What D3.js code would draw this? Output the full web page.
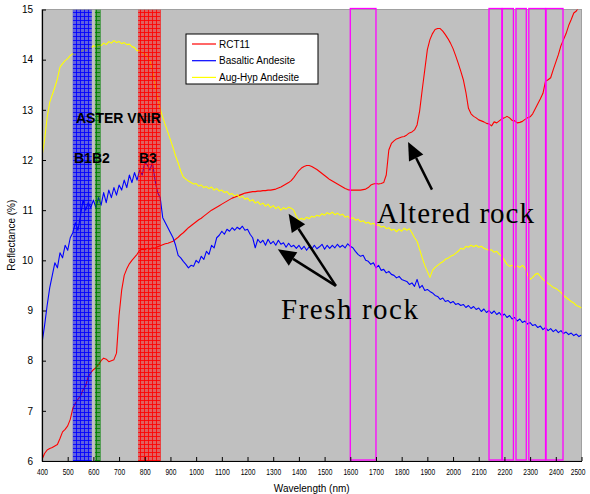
<!DOCTYPE html>
<html>
<head>
<meta charset="utf-8">
<script src="https://cdn.jsdelivr.net/npm/d3@7"></script>
<style>
  html, body { margin: 0; padding: 0; background: #fff; }
  svg { display: block; font-family: "Liberation Sans", Arial, sans-serif; }
</style>
</head>
<body>
<svg id="chart" width="590" height="494"></svg>
<script>
// Spectral sampling grid (nm), one reading every 10 nm
const wavelengths = d3.range(400, 2501, 10);

// Reflectance (%) of the altered sample
const rct11 = [
  6.03, 6.15, 6.22, 6.25, 6.27, 6.30, 6.33, 6.45, 6.58, 6.63,
  6.70, 6.83, 7.05, 7.15, 7.23, 7.30, 7.42, 7.50, 7.68, 7.76,
  7.82, 7.86, 7.92, 8.00, 8.05, 8.03, 7.98, 8.00, 8.02, 8.15,
  8.90, 9.40, 9.70, 9.83, 9.93, 10.00, 10.06, 10.12, 10.20, 10.22,
  10.21, 10.24, 10.22, 10.25, 10.24, 10.27, 10.29, 10.31, 10.33, 10.34,
  10.36, 10.38, 10.42, 10.46, 10.51, 10.55, 10.60, 10.65, 10.69, 10.73,
  10.77, 10.81, 10.84, 10.88, 10.92, 10.96, 11.00, 11.03, 11.06, 11.09,
  11.12, 11.15, 11.18, 11.21, 11.24, 11.26, 11.28, 11.30, 11.32, 11.34,
  11.35, 11.36, 11.37, 11.37, 11.38, 11.38, 11.39, 11.39, 11.40, 11.40,
  11.41, 11.42, 11.44, 11.46, 11.49, 11.52, 11.55, 11.59, 11.65, 11.72,
  11.79, 11.84, 11.87, 11.89, 11.89, 11.87, 11.84, 11.81, 11.77, 11.73,
  11.69, 11.65, 11.61, 11.58, 11.55, 11.52, 11.49, 11.46, 11.43, 11.41,
  11.40, 11.40, 11.40, 11.40, 11.40, 11.41, 11.42, 11.45, 11.50, 11.52,
  11.53, 11.52, 11.53, 11.55, 11.70, 12.20, 12.33, 12.38, 12.42, 12.44,
  12.46, 12.47, 12.50, 12.54, 12.56, 12.60, 12.70, 12.98, 13.40, 13.80,
  14.20, 14.40, 14.52, 14.60, 14.62, 14.62, 14.57, 14.50, 14.42, 14.33,
  14.22, 14.08, 13.93, 13.77, 13.60, 13.35, 13.03, 12.92, 12.87, 12.84,
  12.80, 12.78, 12.76, 12.73, 12.72, 12.68, 12.76, 12.74, 12.78, 12.82,
  12.84, 12.87, 12.84, 12.79, 12.78, 12.74, 12.75, 12.77, 12.81, 12.84,
  12.86, 12.92, 13.02, 13.12, 13.22, 13.33, 13.57, 13.60, 13.64, 13.80,
  13.95, 14.10, 14.28, 14.40, 14.52, 14.68, 14.80, 14.93, 14.97, 15.05,
  15.10
];

// Reflectance (%) of the basaltic andesite
const basalticAndesite = [
  8.35, 8.70, 9.10, 9.45, 9.70, 9.95, 9.85, 10.15, 10.05, 10.30,
  10.20, 10.45, 10.55, 10.75, 10.60, 10.90, 11.20, 11.00, 11.15, 11.05,
  11.20, 11.05, 11.25, 11.10, 11.35, 11.15, 11.40, 11.25, 11.45, 11.30,
  11.50, 11.40, 11.60, 11.45, 11.70, 11.55, 11.75, 11.60, 11.80, 11.70,
  11.95, 11.90, 11.80, 11.95, 11.60, 11.35, 11.25, 10.85, 10.75, 10.65,
  10.55, 10.45, 10.30, 10.10, 10.05, 9.98, 9.92, 9.85, 9.90, 9.88,
  10.00, 9.95, 10.08, 10.02, 10.18, 10.12, 10.30, 10.25, 10.45, 10.50,
  10.58, 10.52, 10.62, 10.58, 10.65, 10.60, 10.66, 10.62, 10.68, 10.60,
  10.62, 10.52, 10.45, 10.25, 10.42, 10.35, 10.40, 10.30, 10.42, 10.33,
  10.38, 10.30, 10.40, 10.32, 10.35, 10.26, 10.34, 10.27, 10.30, 10.24,
  10.30, 10.22, 10.28, 10.20, 10.27, 10.22, 10.30, 10.23, 10.27, 10.32,
  10.22, 10.30, 10.24, 10.30, 10.25, 10.32, 10.26, 10.30, 10.25, 10.33,
  10.28, 10.25, 10.18, 10.12, 10.08, 10.10, 10.00, 9.98, 9.92, 9.95,
  9.85, 9.90, 9.80, 9.82, 9.75, 9.78, 9.72, 9.70, 9.65, 9.68,
  9.62, 9.60, 9.58, 9.52, 9.55, 9.48, 9.62, 9.45, 9.50, 9.40,
  9.42, 9.38, 9.35, 9.30, 9.28, 9.22, 9.25, 9.18, 9.20, 9.15,
  9.18, 9.12, 9.14, 9.10, 9.12, 9.06, 9.10, 9.04, 9.08, 9.02,
  9.05, 8.98, 9.03, 8.96, 9.00, 8.94, 8.99, 8.92, 8.96, 8.89,
  8.93, 8.86, 8.90, 8.83, 8.86, 8.79, 8.83, 8.76, 8.79, 8.73,
  8.76, 8.70, 8.72, 8.66, 8.69, 8.62, 8.66, 8.60, 8.64, 8.58,
  8.62, 8.56, 8.60, 8.54, 8.57, 8.52, 8.55, 8.50, 8.53, 8.48,
  8.51
];

// Reflectance (%) of the augite-hypersthene andesite
const augHypAndesite = [
  12.07, 12.40, 12.85, 13.15, 13.30, 13.45, 13.62, 13.85, 13.92, 13.98,
  14.02, 14.08, 14.12, 14.10, 14.15, 14.14, 14.20, 14.18, 14.24, 14.22,
  14.28, 14.25, 14.30, 14.28, 14.33, 14.30, 14.36, 14.33, 14.38, 14.34,
  14.36, 14.32, 14.34, 14.30, 14.31, 14.26, 14.24, 14.18, 14.18, 14.14,
  14.12, 14.06, 13.98, 13.80, 13.50, 13.25, 13.02, 12.85, 12.70, 12.55,
  12.40, 12.25, 12.08, 11.94, 11.78, 11.66, 11.62, 11.58, 11.55, 11.52,
  11.53, 11.48, 11.50, 11.45, 11.47, 11.43, 11.46, 11.40, 11.43, 11.38,
  11.40, 11.35, 11.37, 11.31, 11.33, 11.28, 11.31, 11.25, 11.28, 11.22,
  11.24, 11.18, 11.21, 11.14, 11.17, 11.11, 11.14, 11.08, 11.12, 11.05,
  11.09, 11.03, 11.07, 11.00, 11.05, 11.02, 11.06, 11.04, 11.00, 10.88,
  10.80, 10.84, 10.81, 10.86, 10.83, 10.88, 10.86, 10.90, 10.88, 10.93,
  10.90, 10.95, 10.92, 10.96, 10.91, 10.94, 10.90, 10.92, 10.86, 10.88,
  10.83, 10.85, 10.80, 10.82, 10.77, 10.79, 10.74, 10.76, 10.72, 10.74,
  10.69, 10.71, 10.66, 10.68, 10.63, 10.65, 10.60, 10.62, 10.57, 10.62,
  10.58, 10.64, 10.60, 10.63, 10.55, 10.45, 10.38, 10.22, 10.05, 9.90,
  9.78, 9.66, 9.80, 9.86, 9.90, 9.94, 9.97, 10.02, 10.04, 10.08,
  10.10, 10.14, 10.18, 10.24, 10.22, 10.28, 10.26, 10.30, 10.27, 10.30,
  10.26, 10.28, 10.24, 10.22, 10.20, 10.21, 10.16, 10.18, 10.12, 10.08,
  10.00, 9.92, 9.88, 9.90, 9.86, 9.89, 9.86, 9.90, 9.85, 9.72,
  9.62, 9.66, 9.72, 9.74, 9.68, 9.62, 9.58, 9.54, 9.50, 9.46,
  9.44, 9.40, 9.36, 9.30, 9.26, 9.22, 9.18, 9.15, 9.10, 9.08,
  9.05
];

const seriesNames = ["RCT11", "Basaltic Andesite", "Aug-Hyp Andesite"];
const seriesColors = ["#ff0000", "#0000ff", "#ffff00"];
const seriesValues = [rct11, basalticAndesite, augHypAndesite];

// ASTER VNIR band ranges (nm)
const vnirBands = [[520, 594], [606, 628], [774, 862]];
const vnirColors = ["#0000ff", "#008000", "#ff0000"];
// ASTER SWIR band ranges (nm)
const swirBands = [[1600, 1700], [2140, 2190], [2192, 2235], [2245, 2285], [2295, 2360], [2362, 2428]];

const xTicks = d3.range(400, 2501, 100);
const yTicks = d3.range(6, 16, 1);

const sans = "'Liberation Sans', Arial, sans-serif";
const serif = "'Liberation Serif', 'Times New Roman', serif";

const svg = d3.select("#chart");
const x = d3.scaleLinear().domain([400, 2500]).range([42, 581.5]);
const y = d3.scaleLinear().domain([6, 15]).range([461, 9.5]);
const [x0, x1] = x.range();
const [yb, yt] = y.range();

// plot background
svg.append("rect")
  .attr("x", x0).attr("y", yt).attr("width", x1 - x0).attr("height", yb - yt)
  .attr("fill", "#c0c0c0").attr("stroke", "#a0a0a0").attr("stroke-width", 1);

svg.append("clipPath").attr("id", "plotClip")
  .append("rect").attr("x", x0).attr("y", yt).attr("width", x1 - x0).attr("height", yb - yt);

// spectra
const line = d3.line()
  .x((d, i) => x(wavelengths[i]))
  .y(d => y(d));

const plot = svg.append("g").attr("clip-path", "url(#plotClip)");
seriesValues.forEach((vals, k) => {
  plot.append("path")
    .datum(vals)
    .attr("fill", "none")
    .attr("stroke", seriesColors[k])
    .attr("stroke-width", 1.1)
    .attr("stroke-linejoin", "round")
    .attr("d", line);
});

// hatched VNIR bands
const defs = svg.append("defs");
vnirColors.forEach((c, i) => {
  const p = defs.append("pattern")
    .attr("id", "hatch" + i)
    .attr("patternUnits", "userSpaceOnUse")
    .attr("width", 4).attr("height", 4);
  p.append("rect").attr("width", 4).attr("height", 4)
    .attr("fill", c).attr("fill-opacity", 0.5);
  p.append("path").attr("d", "M0,0.5H4M0.5,0V4")
    .attr("stroke", c).attr("stroke-width", 1).attr("stroke-opacity", 0.85);
});
plot.selectAll("rect.vnir")
  .data(vnirBands)
  .join("rect")
  .attr("class", "vnir")
  .attr("x", d => x(d[0]))
  .attr("width", d => x(d[1]) - x(d[0]))
  .attr("y", yt).attr("height", yb - yt)
  .attr("fill", (d, i) => `url(#hatch${i})`);

// SWIR band outlines
svg.selectAll("rect.swir")
  .data(swirBands)
  .join("rect")
  .attr("class", "swir")
  .attr("x", d => x(d[0]))
  .attr("width", d => x(d[1]) - x(d[0]))
  .attr("y", yt - 1).attr("height", yb - yt)
  .attr("fill", "none")
  .attr("stroke", "#ff00ff")
  .attr("stroke-width", 1.3);

// axes
const xAxis = d3.axisBottom(x).tickValues(xTicks).tickFormat(d3.format("d"))
  .tickSizeInner(-4).tickSizeOuter(0).tickPadding(8);
const gx = svg.append("g").attr("transform", `translate(0,${yb})`).call(xAxis);
gx.select(".domain").attr("stroke", "#000").attr("stroke-width", 1.2);
gx.selectAll(".tick line").attr("stroke", "#000");
gx.selectAll(".tick text")
  .style("font-family", sans).style("font-size", "9px").attr("fill", "#000")
  .attr("textLength", d => String(d).length * 3.7)
  .attr("lengthAdjust", "spacingAndGlyphs");
// keep the last label inside the frame
gx.selectAll(".tick text").filter(d => d === xTicks[xTicks.length - 1])
  .attr("text-anchor", "end").attr("x", 3.5);

const yAxis = d3.axisLeft(y).tickValues(yTicks).tickFormat(d3.format("d"))
  .tickSizeInner(-4).tickSizeOuter(0).tickPadding(9);
const gy = svg.append("g").attr("transform", `translate(${x0},0)`).call(yAxis);
gy.select(".domain").attr("stroke", "#000").attr("stroke-width", 1.2);
gy.selectAll(".tick line").attr("stroke", "#000");
gy.selectAll(".tick text")
  .style("font-family", sans).style("font-size", "10px").attr("fill", "#000");

svg.append("text")
  .attr("x", (x0 + x1) / 2).attr("y", 492)
  .attr("text-anchor", "middle").style("font-family", sans).style("font-size", "10px")
  .text("Wavelength (nm)");
svg.append("text")
  .attr("transform", `translate(15,${(yt + yb) / 2}) rotate(-90)`)
  .attr("text-anchor", "middle").style("font-family", sans).style("font-size", "10px")
  .text("Reflectance (%)");

// band labels
[["ASTER VNIR", 76, 122.7], ["B1B2", 74, 162.7], ["B3", 139, 162.7]].forEach(([t, tx, ty]) => {
  svg.append("text").attr("x", tx).attr("y", ty)
    .style("font-family", sans).style("font-weight", "bold").style("font-size", "14px")
    .attr("fill", "#000").text(t);
});

// annotations
svg.append("text").attr("x", 377).attr("y", 222.5)
  .style("font-family", serif).style("font-size", "29px")
  .attr("textLength", 157).attr("lengthAdjust", "spacing")
  .text("Altered rock");
svg.append("text").attr("x", 281).attr("y", 318.5)
  .style("font-family", serif).style("font-size", "29px")
  .attr("textLength", 137).attr("lengthAdjust", "spacing")
  .text("Fresh rock");

// arrows, anchored in data units: [tail, tip] as [nm, %]
const arrows = [
  [[1918, 11.41], [1825, 12.36]],
  [[1544, 9.49], [1360, 10.93]],
  [[1544, 9.49], [1318, 10.22]]
];
arrows.forEach(([tail, tip]) => {
  const tx = x(tail[0]), ty = y(tail[1]);
  const hx = x(tip[0]), hy = y(tip[1]);
  const ang = Math.atan2(hy - ty, hx - tx);
  const len = 18, half = 8;
  const bx = hx - len * Math.cos(ang), by = hy - len * Math.sin(ang);
  svg.append("line")
    .attr("x1", tx).attr("y1", ty).attr("x2", bx).attr("y2", by)
    .attr("stroke", "#000").attr("stroke-width", 2.5);
  const nx = -Math.sin(ang) * half, ny = Math.cos(ang) * half;
  svg.append("path")
    .attr("d", `M${hx},${hy}L${bx + nx},${by + ny}L${bx - nx},${by - ny}Z`)
    .attr("fill", "#000");
});

// legend
const lg = svg.append("g").attr("transform", "translate(186,34)");
lg.append("rect").attr("width", 132).attr("height", 50)
  .attr("fill", "#fff").attr("stroke", "#000").attr("stroke-width", 1);
seriesNames.forEach((n, i) => {
  const ly = 10 + i * 16.7;
  lg.append("line").attr("x1", 6).attr("x2", 30).attr("y1", ly).attr("y2", ly)
    .attr("stroke", seriesColors[i]).attr("stroke-width", 1.2);
  lg.append("text").attr("x", 33).attr("y", ly + 3.6)
    .style("font-family", sans).style("font-size", "10px").attr("fill", "#000").text(n);
});
</script>
</body>
</html>
